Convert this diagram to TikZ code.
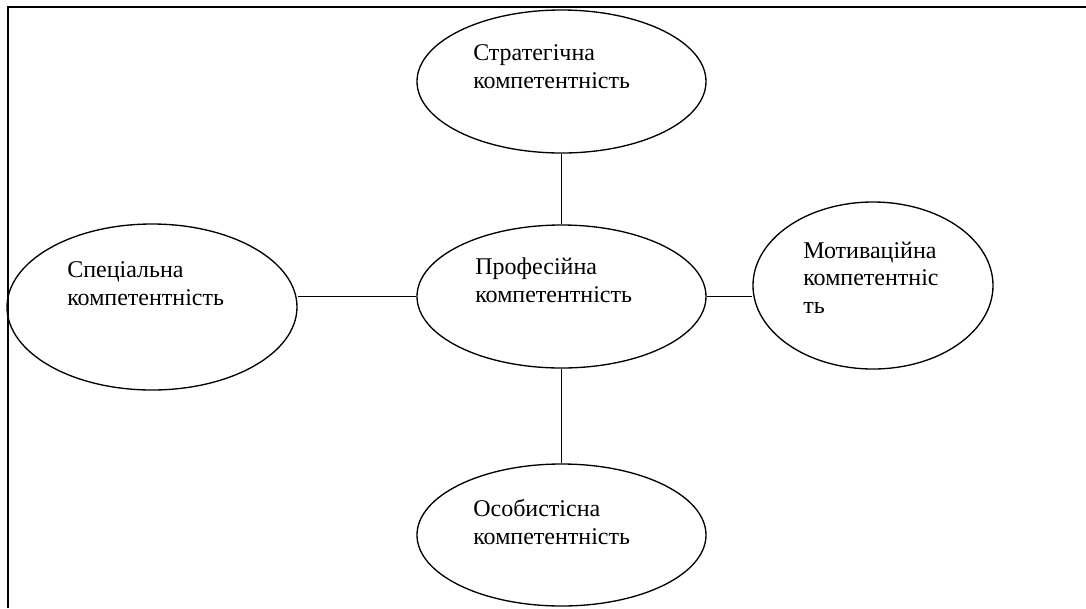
\documentclass[tikz,border=0pt]{standalone}
\usepackage{fontspec}
\setmainfont{Liberation Serif}
\usetikzlibrary{shapes.geometric}
\begin{document}
\begin{tikzpicture}[x=0.75pt,y=-0.75pt,
  oval/.style={draw,ellipse,line width=1pt,inner sep=0pt},
  lbl/.style={anchor=base west,align=left,inner sep=0pt,font=\rmfamily\fontsize{18}{20.5}\selectfont},
  link/.style={line width=1pt},
  frame/.style={line width=1.5pt}]
\useasboundingbox (0,0) rectangle (1086,608);
\coordinate (fA) at (8,608);
\coordinate (fB) at (8,6.5);
\coordinate (fC) at (1086,6.5);
\draw[frame] (fA) -- (fB) -- (fC);
\node[oval,minimum width=216.75pt,minimum height=107.25pt] (str) at (561.5,81.5) {};
\node[oval,minimum width=216.75pt,minimum height=107.25pt] (prof) at (561.5,296.5) {};
\node[oval,minimum width=216.75pt,minimum height=106.5pt] (osob) at (561.5,535) {};
\node[oval,minimum width=217.5pt,minimum height=124.5pt] (spec) at (152,307) {};
\node[oval,minimum width=180pt,minimum height=125.25pt] (mot) at (873,285.5) {};
\node[lbl] (strt) at (473,88) {Стратегічна\\компетентність};
\node[lbl] (proft) at (475,302) {Професійна\\компетентність};
\node[lbl] (osobt) at (473,544) {Особистісна\\компетентність};
\node[lbl] (spect) at (67,305) {Спеціальна\\компетентність};
\node[lbl] (mott) at (803,313) {Мотиваційна\\компетентніс\\ть};
\draw[link] (str.south) -- (prof.north);
\draw[link] (prof.south) -- (osob.north);
\draw[link] (prof.west) -- (prof.west -| spec.east);
\draw[link] (prof.east) -- (prof.east -| mot.west);
\end{tikzpicture}
\end{document}
